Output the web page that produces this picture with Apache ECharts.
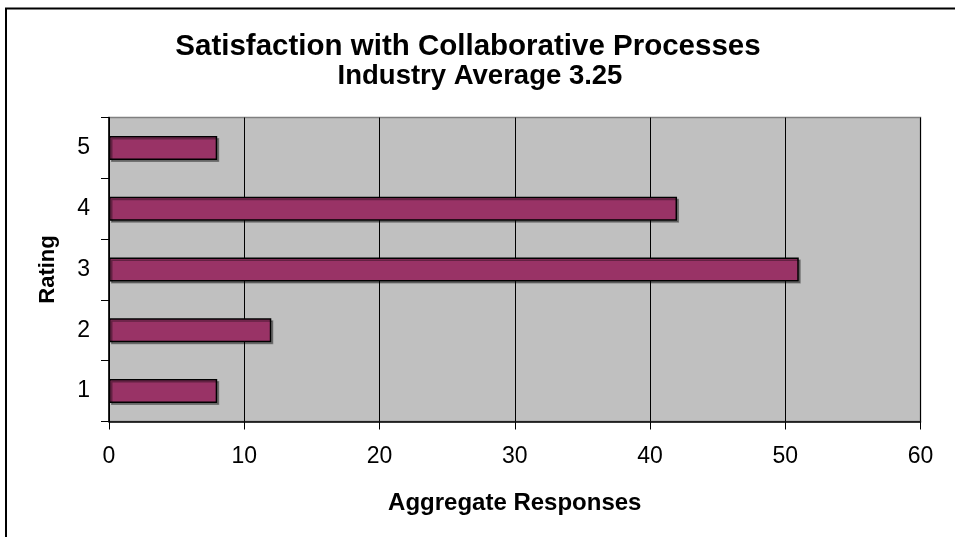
<!DOCTYPE html>
<html>
<head>
<meta charset="utf-8">
<script src="https://cdn.jsdelivr.net/npm/echarts@6/dist/echarts.min.js"></script>
<style>
html,body{margin:0;padding:0;background:#fff;}
#c{width:955px;height:537px;}
</style>
</head>
<body>
<div id="c"></div>
<script>
var titleText = 'Satisfaction with Collaborative Processes';
var subtitleText = 'Industry Average 3.25';
var categories = ['1', '2', '3', '4', '5'];
var values = [8, 12, 51, 42, 8];
var xAxisName = 'Aggregate Responses';
var yAxisName = 'Rating';

var FONT = "'Liberation Sans', Arial, sans-serif";
var chart = echarts.init(document.getElementById('c'), null, {renderer: 'canvas'});
chart.setOption({
  animation: false,
  backgroundColor: '#ffffff',
  graphic: [
    {type: 'rect', silent: true, shape: {x: 6, y: 8.5, width: 1200, height: 1200},
     style: {fill: 'none', stroke: '#000', lineWidth: 2}},
    {type: 'text', x: 468, y: 47, style: {text: titleText, fontSize: 29.5, fontWeight: 'bold', fontFamily: FONT, fill: '#000', align: 'center', verticalAlign: 'middle'}},
    {type: 'text', x: 480, y: 76.5, style: {text: subtitleText, fontSize: 27.5, fontWeight: 'bold', fontFamily: FONT, fill: '#000', align: 'center', verticalAlign: 'middle'}}
  ],
  grid: {
    left: 109, right: 34.5, top: 117.5, bottom: 115.5,
    show: true, backgroundColor: '#c0c0c0', borderColor: '#808080', borderWidth: 1.5
  },
  xAxis: {
    type: 'value', min: 0, max: 60, interval: 10,
    name: xAxisName, nameLocation: 'middle', nameGap: 70,
    nameTextStyle: {fontSize: 24, fontWeight: 'bold', fontFamily: FONT, color: '#000'},
    axisLine: {show: true, lineStyle: {color: '#000', width: 1.5}},
    axisTick: {show: true, length: 8, lineStyle: {color: '#000', width: 1}},
    axisLabel: {fontSize: 23, fontFamily: FONT, color: '#000', margin: 24},
    splitLine: {show: true, lineStyle: {color: '#000', width: 1}}
  },
  yAxis: {
    type: 'category', data: categories,
    name: yAxisName, nameLocation: 'middle', nameGap: 50, nameRotate: 90,
    nameTextStyle: {fontSize: 22, fontWeight: 'bold', fontFamily: FONT, color: '#000'},
    axisLine: {show: true, lineStyle: {color: '#000', width: 1.5}},
    axisTick: {show: true, length: 8, lineStyle: {color: '#000', width: 1}},
    axisLabel: {fontSize: 23, fontFamily: FONT, color: '#000', margin: 19},
    splitLine: {show: false}
  },
  series: [{
    type: 'bar', data: values, barWidth: 24,
    itemStyle: {color: '#993366', borderColor: '#000', borderWidth: 1.5,
      shadowColor: 'rgba(0,0,0,0.35)', shadowOffsetX: 2, shadowOffsetY: 2, shadowBlur: 0}
  }]
});
</script>
</body>
</html>
